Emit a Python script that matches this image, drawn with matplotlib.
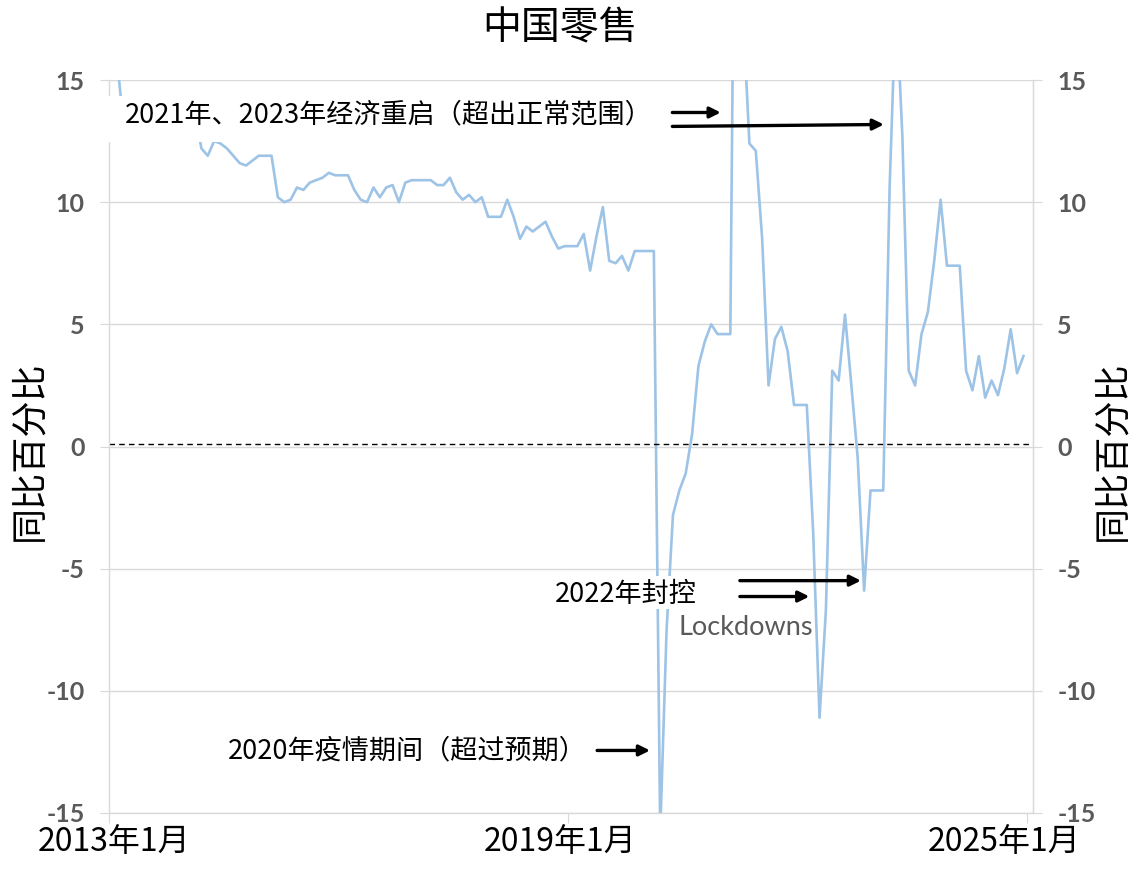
import matplotlib
matplotlib.use("Agg")
import matplotlib.pyplot as plt
from matplotlib.patches import Rectangle
import numpy as np

plt.rcParams['font.family'] = ['Noto Sans CJK SC', 'DejaVu Sans']

# 社会消费品零售总额 同比 (%), 2013年1月 - 2024年12月, 1-2月沿用上年12月数值
y2013 = [15.2, 15.2, 12.6, 12.8, 12.9, 13.3, 13.2, 13.4, 13.3, 13.3, 13.7, 13.6]
y2014 = [13.6, 13.6, 12.2, 11.9, 12.5, 12.4, 12.2, 11.9, 11.6, 11.5, 11.7, 11.9]
y2015 = [11.9, 11.9, 10.2, 10.0, 10.1, 10.6, 10.5, 10.8, 10.9, 11.0, 11.2, 11.1]
y2016 = [11.1, 11.1, 10.5, 10.1, 10.0, 10.6, 10.2, 10.6, 10.7, 10.0, 10.8, 10.9]
y2017 = [10.9, 10.9, 10.9, 10.7, 10.7, 11.0, 10.4, 10.1, 10.3, 10.0, 10.2, 9.4]
y2018 = [9.4, 9.4, 10.1, 9.4, 8.5, 9.0, 8.8, 9.0, 9.2, 8.6, 8.1, 8.2]
y2019 = [8.2, 8.2, 8.7, 7.2, 8.6, 9.8, 7.6, 7.5, 7.8, 7.2, 8.0, 8.0]
y2020 = [8.0, 8.0, -15.8, -7.5, -2.8, -1.8, -1.1, 0.5, 3.3, 4.3, 5.0, 4.6]
y2021 = [4.6, 4.6, 34.2, 17.7, 12.4, 12.1, 8.5, 2.5, 4.4, 4.9, 3.9, 1.7]
y2022 = [1.7, 1.7, -3.5, -11.1, -6.7, 3.1, 2.7, 5.4, 2.5, -0.5, -5.9, -1.8]
y2023 = [-1.8, -1.8, 10.6, 18.4, 12.7, 3.1, 2.5, 4.6, 5.5, 7.6, 10.1, 7.4]
y2024 = [7.4, 7.4, 3.1, 2.3, 3.7, 2.0, 2.7, 2.1, 3.2, 4.8, 3.0, 3.7]

retail = y2013 + y2014 + y2015 + y2016 + y2017 + y2018 + y2019 + y2020 + y2021 + y2022 + y2023 + y2024
# months since 2013年1月; points sit at mid-month
months = np.arange(len(retail)) + 0.5

yticks = [-15, -10, -5, 0, 5, 10, 15]
ytick_labels = ['-15', '-10', '-5', '0', '5', '10', '15']
xtick_pos = [0, 72, 144]
xtick_labels = ['2013年1月', '2019年1月', '2025年1月']

line_color = '#9DC3E6'
grid_color = '#D9D9D9'
tick_color = '#595959'

fig = plt.figure(figsize=(11.43, 8.75), dpi=100)
ax = fig.add_axes([109 / 1143, 62 / 875, 924 / 1143, 733 / 875])

ax.plot(months, retail, color=line_color, lw=1.9, zorder=2)
ax.axhline(0.1, color='black', lw=1.0, ls=(0, (4, 3)), zorder=2.2)

ax.set_xlim(0, 145)
ax.set_ylim(-15, 15)
ax.set_yticks(yticks)
ax.set_yticklabels(ytick_labels)
ax.grid(axis='y', color=grid_color, lw=1.0)
ax.set_axisbelow(True)

ax.spines['top'].set_visible(False)
for side in ['left', 'right', 'bottom']:
    ax.spines[side].set_color(grid_color)
    ax.spines[side].set_linewidth(1.0)

ax.set_xticks(xtick_pos)
ax.set_xticklabels([])
ax.tick_params(axis='x', length=7, color=grid_color)
ax.tick_params(axis='y', length=6.5, color=grid_color, pad=11, labelcolor=tick_color)
for lab in ax.get_yticklabels():
    lab.set_fontfamily('Lato')
    lab.set_fontweight('bold')
    lab.set_fontsize(18)

# x labels placed as in the original (slightly off the tick marks)
for xp, lab in zip([0.8, 70.8, 140.4], xtick_labels):
    ax.text(xp, -15.55, lab, ha='center', va='top', fontsize=23, color='black', clip_on=False)

ax2 = ax.twinx()
ax2.set_ylim(-15, 15)
ax2.set_yticks(yticks)
ax2.set_yticklabels(ytick_labels)
ax2.tick_params(axis='y', length=6.5, color=grid_color, pad=11, labelcolor=tick_color)
for lab in ax2.get_yticklabels():
    lab.set_fontfamily('Lato')
    lab.set_fontweight('bold')
    lab.set_fontsize(18)
for side in ['top', 'left', 'bottom']:
    ax2.spines[side].set_visible(False)
ax2.spines['right'].set_color(grid_color)

# title and axis labels
fig.text(560 / 1143, 1 - 28 / 875, '中国零售', ha='center', va='center', fontsize=28)
fig.text(29 / 1143, 1 - 451 / 875, '同比百分比', ha='center', va='center', rotation=90, fontsize=26)
fig.text(1112 / 1143, 1 - 451 / 875, '同比百分比', ha='center', va='center', rotation=90, fontsize=26)

# white boxes behind the annotations (they hide the line)
ax.add_patch(Rectangle((-1.4, 12.48), 88.7, 1.85, facecolor='white', edgecolor='none',
                       zorder=3, clip_on=False))
ax.add_patch(Rectangle((68.4, -6.67), 25.1, 1.35, facecolor='white', edgecolor='none',
                       zorder=3, clip_on=False))

txt_kw = dict(fontsize=19.5, color='black', va='center', ha='left', zorder=4)
ax.text(2.5, 13.59, '2021年、2023年经济重启（超出正常范围）', **txt_kw)
ax.text(70.0, -6.06, '2022年封控', **txt_kw)
ax.text(18.7, -12.44, '2020年疫情期间（超过预期）', **txt_kw)
ax.text(89.3, -7.41, 'Lockdowns', fontsize=19.5, color=tick_color, va='center', ha='left',
        fontfamily='Lato', zorder=4)

arrow_kw = dict(arrowstyle='-|>', color='black', lw=2.4, mutation_scale=16,
                shrinkA=0, shrinkB=0)
arrows = [
    ((88.4, 13.67), (96.0, 13.67)),
    ((88.4, 13.10), (121.6, 13.18)),
    ((99.0, -5.49), (118.0, -5.49)),
    ((99.0, -6.14), (109.9, -6.14)),
    ((76.6, -12.44), (84.9, -12.44)),
]
for start, end in arrows:
    ax.annotate('', xy=end, xytext=start, arrowprops=arrow_kw, zorder=4,
                annotation_clip=False)

fig.savefig('out.png', dpi=100)
